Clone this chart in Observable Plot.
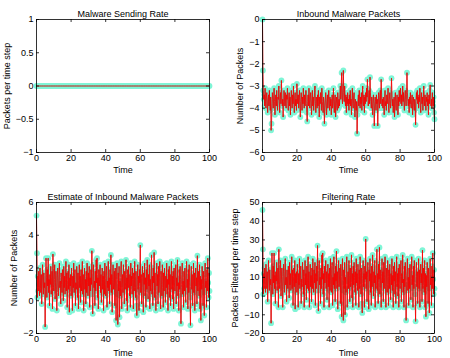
<!DOCTYPE html>
<html><head><meta charset="utf-8">
<script src="https://cdn.jsdelivr.net/npm/d3@7"></script>
<script src="https://cdn.jsdelivr.net/npm/@observablehq/plot@0.6"></script>
<style>
body{margin:0;background:#fff;}
#fig{position:relative;width:450px;height:358px;font-family:"Liberation Sans",Arial,sans-serif;}
#fig svg{position:absolute;overflow:visible;}
</style></head><body><div id="fig"></div>
<script>
// ---- data ----
const timeStep = 0.25; // sample spacing of the noisy series (time units)
const xTicks = [0, 20, 40, 60, 80, 100];

// Malware Sending Rate: every reading is zero (one per time unit)
const sendingRate = [0,0,0,0,0,0,0,0,0,0,0,0,0,0,0,0,0,0,0,0,0,0,0,0,0,0,0,0,0,0,0,0,0,0,0,0,0,0,0,0,0,0,0,0,0,0,0,0,0,0,0,0,0,0,0,0,0,0,0,0,0,0,0,0,0,0,0,0,0,0,0,0,0,0,0,0,0,0,0,0,0,0,0,0,0,0,0,0,0,0,0,0,0,0,0,0,0,0,0,0,0];
const sendingTicks = [-1, -0.5, 0, 0.5, 1];

const inboundPackets = [
0,-2.3,-3.2,-3.6,-3.4,-3.9,-3.1,-3.7,-4.0,-3.5,-3.3,-3.8,-4.2,-3.6,-3.4,-3.9,-3.2,-3.7,-4.1,-3.5,
-5.0,-4.7,-3.8,-3.3,-3.6,-4.0,-3.5,-3.1,-3.7,-4.3,-3.6,-3.4,-3.9,-3.2,-3.8,-4.1,-3.5,-3.6,-3.0,-3.7,
-4.2,-3.5,-3.3,-3.8,-2.75,-3.4,-3.9,-3.6,-4.4,-3.7,-3.2,-3.5,-3.9,-3.3,-3.8,-4.0,-3.4,-3.6,-3.1,-3.8,
-4.1,-3.6,-3.3,-3.9,-3.5,-4.3,-3.7,-3.2,-3.6,-4.0,-3.4,-3.8,-3.0,-3.7,-4.2,-3.5,-3.3,-3.9,-3.6,-4.1,
-2.9,-3.5,-3.8,-3.4,-4.0,-3.6,-3.2,-3.9,-4.4,-3.7,-3.3,-3.6,-4.1,-3.5,-3.8,-3.1,-3.7,-4.0,-3.4,-3.9,
-3.6,-3.2,-3.8,-4.2,-4.6,-3.7,-3.4,-3.9,-3.1,-3.6,-4.0,-3.5,-3.3,-3.8,-4.3,-3.6,-3.2,-3.9,-3.5,-4.1,
-3.7,-3.3,-3.0,-3.8,-4.2,-3.5,-3.6,-4.0,-3.4,-3.9,-3.2,-3.7,-4.4,-3.5,-3.8,-3.3,-3.6,-4.1,-3.1,-3.7,
-3.9,-4.2,-3.5,-3.8,-4.7,-4.0,-3.6,-3.3,-3.9,-4.3,-3.7,-3.4,-4.0,-3.6,-3.2,-3.8,-4.1,-3.5,-3.9,-3.6,
-4.3,-3.8,-3.4,-4.0,-3.7,-3.1,-3.9,-4.2,-3.6,-3.4,-4.4,-3.8,-3.5,-3.9,-4.1,-3.3,-3.7,-4.0,-3.6,-3.9,
-3.4,-3.0,-3.6,-3.2,-2.4,-3.5,-3.8,-3.1,-2.3,-3.3,-3.7,-3.0,-3.6,-3.9,-3.4,-4.2,-3.5,-3.8,-3.3,-3.9,
-3.6,-4.1,-3.4,-3.8,-3.2,-3.9,-3.6,-4.3,-3.7,-3.1,-3.8,-4.0,-3.5,-3.3,-3.9,-4.4,-3.6,-3.8,-4.1,-3.7,
-5.15,-4.3,-3.7,-3.4,-3.9,-3.2,-3.6,-4.0,-3.5,-3.8,-3.3,-4.1,-3.6,-3.0,-3.7,-3.9,-3.4,-4.2,-3.5,-3.8,
-3.3,-3.7,-3.1,-3.5,-2.7,-3.4,-3.9,-3.6,-3.2,-3.8,-2.6,-3.3,-3.7,-4.0,-3.5,-3.9,-4.3,-3.6,-3.4,-3.8,
-4.8,-3.9,-3.5,-3.7,-4.1,-3.4,-3.8,-3.6,-4.8,-3.9,-3.3,-3.6,-4.0,-3.5,-3.2,-3.8,-2.7,-3.4,-3.9,-3.6,
-4.0,-3.5,-3.8,-4.3,-3.6,-3.2,-3.9,-3.7,-4.1,-3.4,-3.8,-3.5,-3.1,-3.9,-4.2,-3.6,-3.3,-3.8,-4.0,-3.5,
-2.65,-3.4,-3.9,-3.6,-4.2,-3.8,-3.5,-4.4,-3.7,-3.3,-3.9,-4.1,-3.6,-3.4,-3.8,-4.3,-3.5,-3.9,-3.2,-3.7,
-3.5,-3.1,-3.8,-3.4,-3.9,-3.6,-3.0,-3.7,-3.3,-3.8,-4.1,-3.5,-3.2,-3.6,-3.9,-3.4,-2.4,-3.3,-3.7,-3.9,
-3.6,-4.2,-3.5,-3.8,-3.3,-3.9,-4.0,-3.6,-3.4,-4.3,-3.7,-3.5,-3.9,-4.1,-3.6,-3.8,-4.75,-3.7,-3.3,-3.6,
-3.2,-3.8,-3.5,-4.0,-3.4,-3.7,-3.1,-3.9,-4.2,-3.6,-3.3,-3.8,-3.5,-4.1,-3.7,-3.0,-3.6,-3.9,-3.4,-3.8,
-4.1,-3.5,-3.7,-3.3,-3.9,-3.6,-4.3,-3.4,-3.8,-3.2,-2.95,-3.5,-3.9,-3.6,-4.0,-3.3,-3.7,-3.9,-3.5,-4.2,
-4.5];
const inboundTicks = [-6, -5, -4, -3, -2, -1, 0];

const estimatePackets = [
5.2,2.9,0.2,1.5,0.6,1.8,1.0,0.3,2.0,1.2,0.5,1.6,-0.2,0.9,2.2,1.3,0.4,1.7,0.8,1.1,
-1.6,0.7,2.6,1.4,0.2,1.9,0.9,2.6,0.5,1.3,-0.3,1.6,1.0,2.1,0.4,1.2,1.8,-0.5,2.85,1.0,
0.6,1.5,2.2,0.1,1.1,1.8,0.7,-0.6,1.4,2.0,0.9,0.3,1.6,2.3,0.8,1.2,-0.2,1.7,1.0,0.5,
1.9,1.3,0.0,2.1,0.8,1.5,0.4,1.1,2.4,0.6,1.7,-0.4,1.0,1.8,0.7,2.2,-0.7,1.4,0.9,1.6,
0.3,2.0,1.2,-0.6,1.5,0.8,2.3,0.5,1.3,1.9,-0.3,1.1,0.7,2.1,1.4,0.2,1.7,-0.5,1.0,2.2,
0.8,1.5,-0.1,1.9,0.6,1.2,2.4,0.4,1.6,-0.6,1.0,2.0,0.7,1.3,-0.2,1.8,0.5,2.3,1.1,0.3,
1.7,0.9,2.1,-0.4,1.4,0.6,1.9,1.0,3.05,0.4,-0.8,1.5,2.2,0.8,1.2,-0.3,1.8,0.6,2.5,1.1,
2.6,0.2,1.4,-0.5,1.9,0.9,1.3,2.2,0.5,1.6,-0.1,1.1,2.0,0.7,1.5,-0.6,1.8,0.4,2.3,1.0,
0.3,1.7,2.1,-0.4,1.2,0.8,2.4,0.6,1.4,-0.2,1.9,1.0,2.8,0.5,1.6,-0.7,1.3,2.2,0.7,1.1,
1.8,-0.3,2.0,0.9,-1.2,1.5,2.3,0.4,-1.45,1.7,0.6,2.1,-1.0,1.2,0.3,1.9,2.4,-0.5,1.0,1.6,
0.5,2.2,1.3,-0.2,1.8,0.7,1.1,2.5,0.0,1.4,-0.6,1.9,0.8,2.1,1.2,0.3,1.6,-0.4,2.3,0.9,
1.5,0.4,2.0,1.1,-0.5,1.7,0.6,2.4,1.0,0.2,1.8,-0.3,-0.9,1.3,2.2,0.7,1.5,-0.6,1.9,1.1,
3.4,0.5,1.6,-0.2,1.2,2.1,0.8,-0.7,1.7,1.0,2.3,0.3,1.4,-0.4,1.9,0.7,2.5,1.2,0.1,1.6,
0.9,2.2,-0.5,1.3,0.6,1.8,2.8,0.4,1.5,-0.3,2.0,1.1,2.95,0.2,1.7,0.8,-0.6,1.4,2.3,0.9,
1.6,-0.2,2.1,0.5,1.2,2.4,0.7,-0.5,1.8,1.0,0.3,2.2,1.4,-0.4,1.7,0.6,2.0,1.1,-0.1,1.5,
0.8,2.3,0.4,1.3,-0.6,1.9,1.0,2.1,0.2,1.6,-0.3,1.2,2.4,0.7,1.5,0.1,1.8,-0.5,2.0,1.1,
0.6,1.7,2.2,-0.2,1.4,0.9,2.5,0.3,1.1,-0.6,1.9,0.7,2.1,1.3,-1.4,0.8,1.6,2.3,0.4,1.2,
-0.4,1.8,0.6,2.0,1.0,-0.1,1.5,2.4,0.8,1.3,-0.5,1.9,0.5,2.2,1.1,0.2,-1.5,1.4,2.1,0.7,
1.6,-0.3,1.0,2.3,0.5,1.7,-0.6,1.2,2.0,0.9,1.4,-0.2,2.75,0.6,1.8,1.1,0.3,2.2,-0.5,1.5,
-1.2,1.3,0.7,2.1,1.0,-0.3,1.8,0.5,-0.9,1.6,2.3,0.8,1.2,-0.4,1.9,0.6,2.6,1.1,0.2,1.7,
0.6];
const estimateTicks = [-2, 0, 2, 4, 6];

const filteringRate = [
46,25,1,12,4,15,8,2,17,10,4,13,-3,7,19,11,3,14,6,9,
-14.5,5,23,12,1,16,7,23,4,11,-4,13,8,18,3,10,15,-6,25,8,
4,12,19,0,9,15,5,-6,12,17,7,2,13,20,6,10,-3,14,8,4,
16,11,-1,18,6,12,3,9,21,4,14,-5,8,15,5,19,-7,12,7,13,
2,17,10,-6,12,6,20,4,11,16,-4,9,5,18,12,1,14,-6,8,19,
6,12,-2,16,4,10,21,3,13,-6,8,17,5,11,-3,15,4,20,9,2,
14,7,18,-5,12,4,16,8,27,3,-8,12,19,6,10,-4,15,4,22,9,
23,1,12,-6,16,7,11,19,4,13,-2,9,17,5,12,-6,15,3,20,8,
2,14,18,-5,10,6,21,4,12,-3,16,8,24,4,13,-7,11,19,5,9,
15,-4,17,7,-11,12,20,3,-13,14,4,18,-10,10,2,16,21,-6,8,13,
4,19,11,-3,15,5,9,22,-1,12,-6,16,6,18,10,2,13,-5,20,7,
12,3,17,9,-6,14,4,21,8,1,15,-4,-9,11,19,5,12,-6,16,9,
30.5,4,13,-3,10,18,6,-7,14,8,20,2,12,-5,16,5,22,10,0,13,
7,19,-6,11,4,15,25,3,12,-4,17,9,26,1,14,6,-6,12,20,7,
13,-3,18,4,10,21,5,-6,15,8,2,19,12,-5,14,4,17,9,-2,12,
6,20,3,11,-6,16,8,18,1,13,-4,10,21,5,12,0,15,-6,17,9,
4,14,19,-3,12,7,22,2,9,-6,16,5,18,11,-13,6,13,20,3,10,
-5,15,4,17,8,-2,12,21,6,11,-6,16,4,19,9,1,-13.5,12,18,5,
13,-4,8,20,4,14,-6,10,17,7,12,-3,24.5,4,15,9,2,19,-6,12,
-11,11,5,18,8,-4,15,4,-9,13,20,6,10,-5,16,4,23,9,1,14,
4];
const filteringTicks = [-20, -10, 0, 10, 20, 30, 40, 50];

// ---- drawing ----
const FONT = '"Liberation Sans", Arial, sans-serif';
const markerColor = "#7ff5d6";
const fig = document.getElementById("fig");
const fmt = d => (d < 0 ? "\u2212" : "") + Math.abs(d);

function panel({title, ylabel, values, step, yDomain, yTicks, left, top, mL, mT, mB, yLabelOffset, xLabelOffset}) {
  const W = 225, H = 179, mR = 16;
  const fh = H - mT - mB, fw = W - mL - mR;
  const data = values.map((v, i) => ({t: i * step, v}));
  const svg = Plot.plot({
    width: W, height: H,
    marginLeft: mL, marginRight: mR, marginTop: mT, marginBottom: mB,
    style: {fontFamily: FONT, fontSize: "9px", color: "#000", background: "transparent", overflow: "visible"},
    x: {domain: [0, 100]},
    y: {domain: yDomain},
    marks: [
      Plot.dot(data, {x: "t", y: "v", r: 2.9, fill: markerColor, stroke: "none"}),
      Plot.line(data, {x: "t", y: "v", stroke: "#000", strokeWidth: 0.4, strokeOpacity: 0.7}),
      Plot.line(data, {x: "t", y: "v", stroke: "#ff0000", strokeWidth: 0.85, strokeOpacity: 0.9}),
      Plot.frame({stroke: "#000", strokeWidth: 0.8}),
      Plot.tickX(xTicks, {x: d => d, insetTop: fh - 3, stroke: "#000", strokeWidth: 0.8}),
      Plot.tickX(xTicks, {x: d => d, insetBottom: fh - 3, stroke: "#000", strokeWidth: 0.8}),
      Plot.tickY(yTicks, {y: d => d, insetRight: fw - 3, stroke: "#000", strokeWidth: 0.8}),
      Plot.tickY(yTicks, {y: d => d, insetLeft: fw - 3, stroke: "#000", strokeWidth: 0.8}),
      Plot.axisX(xTicks, {tickSize: 0, tickPadding: 2, fontSize: 9, tickFormat: fmt, label: "Time", labelAnchor: "center", labelArrow: "none", labelOffset: xLabelOffset}),
      Plot.axisY(yTicks, {tickSize: 0, tickPadding: 3, fontSize: 9, tickFormat: fmt, label: ylabel, labelAnchor: "center", labelArrow: "none", labelOffset: yLabelOffset}),
      Plot.text([title], {frameAnchor: "top", dy: -9, text: d => d, fontSize: 9})
    ]
  });
  svg.style.left = left + "px";
  svg.style.top = top + "px";
  fig.appendChild(svg);
}

panel({title: "Malware Sending Rate", ylabel: "Packets per time step", values: sendingRate, step: 1,
  yDomain: [-1, 1], yTicks: sendingTicks, left: 0, top: 0, mL: 36, mT: 19, mB: 27, yLabelOffset: 33, xLabelOffset: 20.5});
panel({title: "Inbound Malware Packets", ylabel: "Number of Packets", values: inboundPackets, step: timeStep,
  yDomain: [-6, 0], yTicks: inboundTicks, left: 225, top: 0, mL: 37, mT: 19, mB: 27, yLabelOffset: 25.5, xLabelOffset: 20.5});
panel({title: "Estimate of Inbound Malware Packets", ylabel: "Number of Packets", values: estimatePackets, step: timeStep,
  yDomain: [-2, 6], yTicks: estimateTicks, left: 0, top: 179, mL: 36, mT: 23, mB: 25, yLabelOffset: 25.5, xLabelOffset: 22.5});
panel({title: "Filtering Rate", ylabel: "Packets Filtered per time step", values: filteringRate, step: timeStep,
  yDomain: [-20, 50], yTicks: filteringTicks, left: 225, top: 179, mL: 37, mT: 23, mB: 25, yLabelOffset: 31, xLabelOffset: 22.5});
</script>
</body></html>
